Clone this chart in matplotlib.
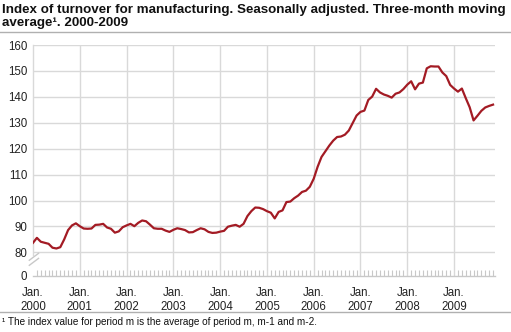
import numpy as np
import matplotlib
matplotlib.use("Agg")
import matplotlib.pyplot as plt

plt.rcParams['font.family'] = ['Liberation Sans', 'DejaVu Sans']

# monthly index, Jan 2000 - Nov 2009
index_values = [
    83.7, 85.6, 84.1, 83.7, 83.3, 81.8, 81.5, 82.0, 85.0, 88.6, 90.4, 91.2,   # 2000
    90.1, 89.2, 89.1, 89.2, 90.6, 90.7, 91.0, 89.6, 89.1, 87.6, 88.1, 89.7,   # 2001
    90.4, 91.0, 90.1, 91.4, 92.3, 92.0, 90.7, 89.3, 89.1, 89.1, 88.4, 87.9,   # 2002
    88.7, 89.3, 89.0, 88.6, 87.7, 87.8, 88.6, 89.3, 88.9, 87.9, 87.5, 87.6,   # 2003
    88.0, 88.3, 89.9, 90.3, 90.6, 89.9, 91.0, 94.0, 95.9, 97.3, 97.2, 96.7,   # 2004
    95.9, 95.3, 93.1, 95.6, 96.2, 99.4, 99.6, 100.9, 101.9, 103.3, 103.8, 105.3,  # 2005
    108.4, 113.0, 116.8, 119.0, 121.2, 123.1, 124.5, 124.7, 125.4, 127.0, 129.9, 132.8,  # 2006
    134.2, 134.7, 138.8, 140.1, 143.1, 141.7, 140.9, 140.4, 139.7, 141.2, 141.7, 143.0,  # 2007
    144.7, 146.0, 142.9, 145.1, 145.5, 151.0, 151.8, 151.7, 151.7, 149.4, 148.0, 144.6,  # 2008
    143.2, 142.0, 143.2, 139.5, 136.0, 130.9, 132.7, 134.6, 135.9, 136.5, 137.0,  # 2009
]
years = list(range(2000, 2010))
ytick_values = [0, 80, 90, 100, 110, 120, 130, 140, 150, 160]

months = np.arange(len(index_values))


# broken axis: 0..80 squeezed into a short band at the bottom
def fwd(v):
    v = np.asarray(v, dtype=float)
    return np.where(v >= 80, v, 71 + v * 9 / 80)


def inv(t):
    t = np.asarray(t, dtype=float)
    return np.where(t >= 80, t, (t - 71) * 80 / 9)


fig = plt.figure(figsize=(5.11, 3.32), dpi=100)
ax = fig.add_axes([33 / 511, 1 - 275.7 / 332, 462 / 511, 230.7 / 332])
ax.set_yscale('function', functions=(fwd, inv))

grid_col = '#d9d9d9'
ax.plot(months, index_values, color='#a31b24', lw=1.6, zorder=3)

ax.set_xlim(0, 118.5)
ax.set_ylim(0, 160)

ax.set_yticks(ytick_values)
ax.set_yticklabels([str(v) for v in ytick_values])
ax.set_xticks([12 * i for i in range(len(years))])
ax.set_xticklabels(['Jan.\n%d' % y for y in years])
ax.set_xticks(np.arange(0, 119), minor=True)

for v in ytick_values[1:]:
    ax.axhline(v, color=grid_col, lw=1, zorder=1)
for i in range(1, len(years)):
    ax.axvline(12 * i, color=grid_col, lw=1, zorder=1)
# left edge line, only above the break
ax.plot([0, 0], [72.5, 160], color=grid_col, lw=1, zorder=1, clip_on=False)

for s in ['top', 'right', 'left']:
    ax.spines[s].set_visible(False)
ax.spines['bottom'].set_color('#c8c8c8')
ax.spines['bottom'].set_linewidth(1)

ax.tick_params(axis='y', length=0, pad=4, labelsize=8.3, labelcolor='#222222')
ax.tick_params(axis='x', which='major', length=0, pad=8, labelsize=8.3, labelcolor='#222222')
ax.tick_params(axis='x', which='minor', direction='in', length=4, width=0.8, color='#c8c8c8')

# break marks
for dy in [0, 0.022]:
    ax.plot([-0.008, 0.012], [0.045 + dy, 0.075 + dy], transform=ax.transAxes,
            color='#c8c8c8', lw=1, clip_on=False, zorder=4)

fig.text(2 / 511, 1 - 4 / 332,
         'Index of turnover for manufacturing. Seasonally adjusted. Three-month moving\naverage\u00b9. 2000-2009',
         fontsize=9.6, fontweight='bold', va='top', ha='left', linespacing=1.15, color='#111111')
fig.add_artist(plt.Line2D([0, 1], [1 - 31.7 / 332] * 2, color='#b0b0b0', lw=1))
fig.add_artist(plt.Line2D([0, 1], [1 - 311.7 / 332] * 2, color='#b0b0b0', lw=1))
fig.text(2 / 511, 1 - 322 / 332,
         '\u00b9 The index value for period m is the average of period m, m-1 and m-2.',
         fontsize=7.2, va='center', ha='left', color='#111111')

fig.savefig('out.png', dpi=100)
